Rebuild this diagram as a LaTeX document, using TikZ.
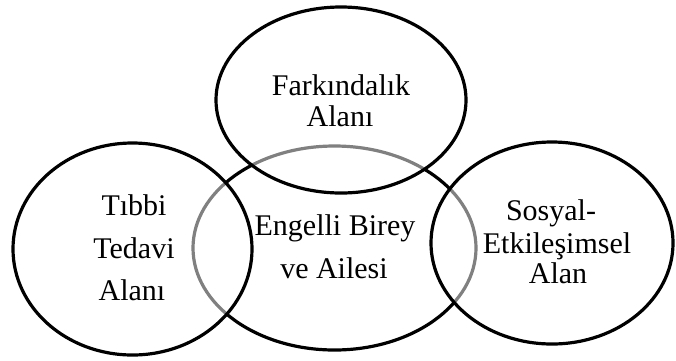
\documentclass[tikz,border=0pt]{standalone}
\usepackage{fontspec}
\setmainfont{Liberation Serif}
\usetikzlibrary{shapes.geometric}
\begin{document}
\begin{tikzpicture}[x=1pt,y=-1pt,
  ring/.style={ellipse, draw=black, line width=3.2pt, inner sep=0pt, outer sep=0pt},
  veil/.style={ring, fill=white, fill opacity=0.5, draw opacity=1},
  lbl/.style={anchor=base, inner sep=0pt, font=\fontsize{30}{36}\selectfont}]
\useasboundingbox (0,0) rectangle (676,360);
% central ellipse (drawn first, its outline shows grey under the veiled ones)
\node[ring, minimum width=283pt, minimum height=204pt] (center) at (334.5,248) {};
\node[veil, minimum width=250pt, minimum height=186pt] (top) at (341,100) {};
\node[veil, minimum width=239pt, minimum height=212pt] (left) at (132.5,249) {};
\node[veil, minimum width=242pt, minimum height=202pt] (right) at (552,243) {};
% labels
\node[lbl] (f1) at (341,95) {Farkındalık};
\node[lbl] (f2) at (340,126) {Alanı};
\node[lbl] (l1) at (134,215) {Tıbbi};
\node[lbl] (l2) at (134,258) {Tedavi};
\node[lbl] (l3) at (132,300) {Alanı};
\node[lbl] (c1) at (335,235) {Engelli Birey};
\node[lbl] (c2) at (334,278) {ve Ailesi};
\node[lbl] (r1) at (551,220) {Sosyal-};
\node[lbl] (r2) at (557,253) {Etkileşimsel};
\node[lbl] (r3) at (558,283) {Alan};
\end{tikzpicture}
\end{document}
